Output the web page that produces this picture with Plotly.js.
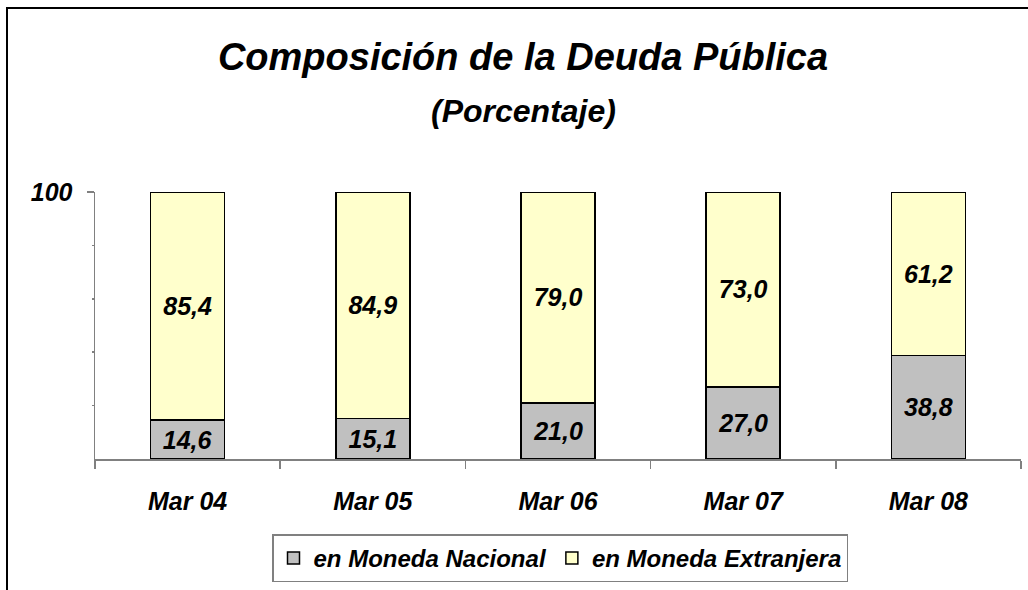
<!DOCTYPE html>
<html>
<head>
<meta charset="utf-8">
<script src="https://cdn.plot.ly/plotly-3.0.1.min.js"></script>
<style>
  html, body { margin: 0; padding: 0; background: #fff; }
  #wrap { position: relative; width: 1028px; height: 590px; overflow: hidden; }
  #chart { position: absolute; left: 0; top: 0; width: 1028px; height: 590px; }
  #frame { position: absolute; left: 6px; top: 7px; width: 1100px; height: 700px;
           border-left: 2px solid #000; border-top: 2px solid #000; pointer-events: none; }
</style>
</head>
<body>
<div id="wrap">
  <div id="chart"></div>
  <div id="frame"></div>
</div>
<script>
const categories = ['Mar 04', 'Mar 05', 'Mar 06', 'Mar 07', 'Mar 08'];
const nacional = [14.6, 15.1, 21.0, 27.0, 38.8];
const extranjera = [85.4, 84.9, 79.0, 73.0, 61.2];
const seriesNames = ['en Moneda Nacional', 'en Moneda Extranjera'];
const titleText = 'Composición de la Deuda Pública';
const subtitleText = '(Porcentaje)';

const FONT = 'Liberation Sans, Arial, sans-serif';
const fmt = v => v.toFixed(1).replace('.', ',');
const labelFont = {family: FONT, size: 25, color: '#000', weight: 'bold', style: 'italic'};

const traces = [
  {
    type: 'bar', name: seriesNames[0], x: categories, y: nacional,
    text: nacional.map(fmt), textposition: 'inside', insidetextanchor: 'middle',
    constraintext: 'none', textfont: labelFont, hoverinfo: 'skip',
    marker: {color: '#C0C0C0', line: {color: '#000', width: 1.5}}
  },
  {
    type: 'bar', name: seriesNames[1], x: categories, y: extranjera,
    text: extranjera.map(fmt), textposition: 'inside', insidetextanchor: 'middle',
    constraintext: 'none', textfont: labelFont, hoverinfo: 'skip',
    marker: {color: '#FFFFCC', line: {color: '#000', width: 1.5}}
  }
];

const layout = {
  width: 1028, height: 590,
  margin: {l: 95, r: 7, t: 192, b: 129},
  paper_bgcolor: 'rgba(0,0,0,0)', plot_bgcolor: '#fff',
  barmode: 'stack', bargap: 0.6,
  font: {family: FONT, color: '#000'},
  title: {
    text: titleText, xref: 'container', x: 523/1028, xanchor: 'center',
    yref: 'container', y: 1 - 57/590, yanchor: 'middle',
    font: {family: FONT, size: 38, weight: 'bold', style: 'italic', color: '#000'}
  },
  annotations: [{
    text: subtitleText, xref: 'paper', yref: 'paper',
    x: (523 - 95) / 926, y: (461 - 110) / 269, xanchor: 'center', yanchor: 'middle',
    showarrow: false,
    font: {family: FONT, size: 32, weight: 'bold', style: 'italic', color: '#000'}
  }],
  xaxis: {
    type: 'category', showline: true, linecolor: '#808080', linewidth: 1.5,
    ticks: 'outside', tickson: 'boundaries', ticklen: 8, tickcolor: '#808080', tickwidth: 1.5,
    ticklabelstandoff: 19,
    tickfont: {family: FONT, size: 25, weight: 'bold', style: 'italic', color: '#000'},
    showgrid: false, zeroline: false, fixedrange: true
  },
  yaxis: {
    range: [0, 100], showline: true, linecolor: '#808080', linewidth: 1.5,
    tickvals: [100], ticktext: ['100'], ticks: 'outside', ticklen: 7,
    tickcolor: '#808080', tickwidth: 1.5, ticklabelstandoff: 9,
    minor: {tickvals: [20, 40, 60, 80], ticks: 'outside', ticklen: 2, tickcolor: '#808080', showgrid: false},
    tickfont: {family: FONT, size: 25, weight: 'bold', style: 'italic', color: '#000'},
    showgrid: false, zeroline: false, fixedrange: true
  },
  showlegend: true,
  legend: {
    orientation: 'h', xref: 'paper', yref: 'paper',
    x: (560 - 95) / 926, xanchor: 'center', y: (461 - 537) / 269, yanchor: 'top',
    bgcolor: '#fff', bordercolor: '#808080', borderwidth: 1.5,
    font: {family: FONT, size: 24, weight: 'bold', style: 'italic', color: '#000'},
    traceorder: 'normal', itemwidth: 30
  }
};

Plotly.newPlot('chart', traces, layout, {staticPlot: true, displayModeBar: false});
</script>
</body>
</html>
